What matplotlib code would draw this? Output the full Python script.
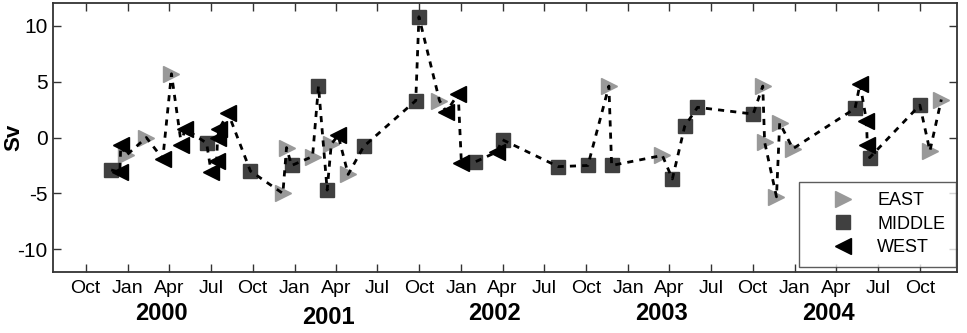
import numpy as np
import matplotlib
matplotlib.use("Agg")
import matplotlib.pyplot as plt
import matplotlib.dates as mdates
import matplotlib.transforms as mtransforms

# ---------------- transport (Sv) per section ----------------
east_dates = ['1999-12-29', '2000-02-11', '2000-04-06', '2000-12-06', '2000-12-14',
              '2001-02-09', '2001-03-22', '2001-04-28', '2001-11-14', '2002-11-20',
              '2003-03-17', '2003-10-23', '2003-10-27', '2003-11-22', '2003-11-29',
              '2003-12-28', '2004-10-23', '2004-11-17']
east_sv = [-1.6, 0.0, 5.7, -5.0, -0.9, -1.7, -0.6, -3.3, 3.3, 4.6,
           -1.6, 4.6, -0.4, -5.3, 1.3, -1.0, -1.2, 3.4]

middle_dates = ['1999-11-26', '2000-06-22', '2000-09-26', '2000-12-25', '2001-02-22',
                '2001-03-13', '2001-06-01', '2001-09-23', '2001-09-30', '2002-01-30',
                '2002-04-01', '2002-08-01', '2002-10-05', '2002-11-26', '2003-04-08',
                '2003-05-05', '2003-06-02', '2003-10-02', '2004-05-12', '2004-06-13',
                '2004-10-01']
middle_sv = [-2.9, -0.5, -3.0, -2.5, 4.6, -4.7, -0.8, 3.3, 10.8, -2.2,
             -0.2, -2.6, -2.5, -2.5, -3.7, 1.0, 2.7, 2.1, 2.6, -1.8, 2.9]

west_dates = ['1999-12-15', '1999-12-17', '2000-03-18', '2000-04-28', '2000-05-05',
              '2000-07-02', '2000-07-14', '2000-07-16', '2000-07-20', '2000-08-08',
              '2001-04-06', '2001-11-29', '2001-12-25', '2002-01-01', '2002-03-19',
              '2004-05-23', '2004-06-06', '2004-06-08']
west_sv = [-3.1, -0.7, -1.9, -0.7, 0.8, -3.1, -2.1, 0.0, 0.8, 2.2,
           0.2, 2.3, 3.9, -2.3, -1.3, 4.8, 1.5, -0.7]

years = [2000, 2001, 2002, 2003, 2004]

# ---------------- prepare ----------------
e_t = np.array(east_dates, dtype='datetime64[D]')
m_t = np.array(middle_dates, dtype='datetime64[D]')
w_t = np.array(west_dates, dtype='datetime64[D]')

all_t = np.concatenate([e_t, m_t, w_t])
all_v = np.concatenate([east_sv, middle_sv, west_sv])
order = np.argsort(all_t, kind='stable')

plt.rcParams['axes.unicode_minus'] = False
plain = ['Liberation Sans', 'DejaVu Sans']

fig = plt.figure(figsize=(9.67, 3.33), dpi=100)
ax = fig.add_axes([0.055, 0.184, 0.9345, 0.806])

ax.plot(e_t, east_sv, linestyle='none', marker='>', ms=12, color='#999999',
        label='EAST', zorder=2)
ax.plot(m_t, middle_sv, linestyle='none', marker='s', ms=9.5, color='#404040',
        label='MIDDLE', zorder=2)
ax.plot(w_t, west_sv, linestyle='none', marker='<', ms=12, color='black',
        label='WEST', zorder=2)
ax.plot(all_t[order], all_v[order], color='black', lw=2,
        linestyle=(0, (2.2, 2.2)), zorder=3)

ax.set_xlim(np.datetime64('1999-07-22'), np.datetime64('2004-12-21'))
ax.set_ylim(-12, 12)
ax.set_yticks([-10, -5, 0, 5, 10])

ax.xaxis.set_major_locator(mdates.MonthLocator(bymonth=[1, 4, 7, 10]))
ax.xaxis.set_major_formatter(mdates.DateFormatter('%b'))

ax.tick_params(axis='both', direction='in', top=True, right=True,
               length=6, width=1, color='#333333')
ax.tick_params(axis='x', pad=6)
ax.tick_params(axis='y', pad=4)
for lab in ax.get_xticklabels():
    lab.set_family(plain)
    lab.set_fontsize(14)
for lab in ax.get_yticklabels():
    lab.set_family(plain)
    lab.set_fontsize(15)

for sp in ax.spines.values():
    sp.set_linewidth(1.3)
    sp.set_color('#333333')

ax.set_ylabel('Sv', fontsize=16, fontweight='bold', family=plain, va='center')
ax.yaxis.set_label_coords(-0.043, 0.5)

# year labels under the month ticks
trans = mtransforms.blended_transform_factory(ax.transData, ax.transAxes)
for yr in years:
    yoff = -0.169 if yr == 2001 else -0.156
    ax.text(np.datetime64(f'{yr}-03-15'), yoff, str(yr), transform=trans,
            ha='center', va='center', fontsize=17, fontweight='bold',
            family=plain)

leg = ax.legend(loc='lower right', bbox_to_anchor=(0.999, 0.018),
                frameon=True, fancybox=False, edgecolor='#333333',
                prop={'family': plain, 'size': 13}, borderaxespad=0,
                handlelength=3.6, handletextpad=0.1, borderpad=0.6,
                labelspacing=0.35)
leg.get_frame().set_linewidth(1)

fig.savefig('out.png', dpi=100)
